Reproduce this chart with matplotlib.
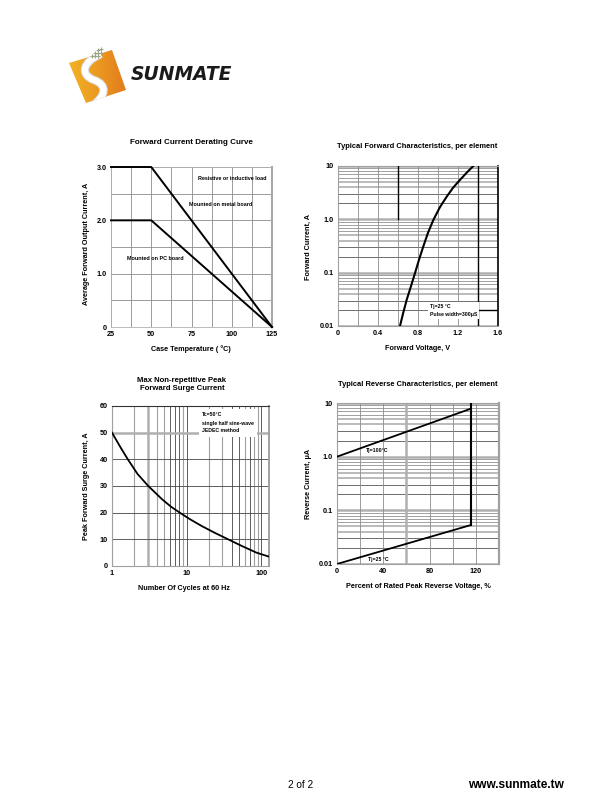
import matplotlib
matplotlib.use('Agg')
import matplotlib.pyplot as plt
import numpy as np
from matplotlib.path import Path
import matplotlib.patches as mpatches
from matplotlib.colors import LinearSegmentedColormap

plt.rcParams['font.family'] = ['Liberation Sans', 'DejaVu Sans']

W, H = 610, 810

# ---------------- data ----------------
derate_temp = [25, 50, 125]
derate_metal = [3.0, 3.0, 0.0]
derate_pc = [2.0, 2.0, 0.0]
derate_xticks = [25, 50, 75, 100, 125]
derate_yticks = [0, 1, 2, 3]
derate_yticklabels = ['0', '1.0', '2.0', '3.0']

fwd_v = [0.62, 0.65, 0.687, 0.73, 0.77, 0.81, 0.853, 0.90, 0.953, 1.02, 1.087, 1.15, 1.22, 1.29, 1.353]
fwd_i = [0.01, 0.017, 0.031, 0.056, 0.098, 0.175, 0.31, 0.56, 0.97, 1.7, 2.66, 3.9, 5.5, 7.6, 10]
fwd_xticks = [0, 0.4, 0.8, 1.2, 1.6]
fwd_xticklabels = ['0', '0.4', '0.8', '1.2', '1.6']
fwd_mark1_v = [0.6, 0.6]
fwd_mark1_i = [1.0, 10]
fwd_mark2_v = [1.4, 1.4]
fwd_mark2_i = [0.01, 10]
fwd_mark3_v = [1.4, 1.6]
fwd_mark3_i = [0.02, 0.02]

log_yticks = [0.01, 0.1, 1, 10]
log_yticklabels = ['0.01', '0.1', '1.0', '10']

surge_cycles = [1, 1.3, 1.63, 2.2, 3.06, 4.7, 6.2, 8.1, 11, 15.9, 24, 36, 55, 86.5, 127]
surge_current = [50, 44.5, 40, 34.5, 30, 25, 22.2, 20, 17.6, 15, 12.4, 10, 7.5, 5, 3.5]
surge_xticks = [1, 10, 100]
surge_xticklabels = ['1', '10', '100']
surge_yticks = [0, 10, 20, 30, 40, 50, 60]

rev_pct = [0, 115.4]
rev_100 = [1.0, 7.8]
rev_25 = [0.01, 0.053]
rev_drop_pct = [115.4, 115.4]
rev_drop_i = [0.053, 10]
rev_xticks = [0, 40, 80, 120]

# ---------------- figure ----------------
fig = plt.figure(figsize=(W / 100, H / 100), dpi=100)
fig.patch.set_facecolor('white')


def rect(l, t, r, b):
    return [l / W, 1 - b / H, (r - l) / W, (b - t) / H]


ov = fig.add_axes([0, 0, 1, 1], zorder=0)
ov.set_xlim(0, W)
ov.set_ylim(H, 0)
ov.axis('off')

TICK = dict(labelsize=5.2, length=0, pad=3)
GRID = '#8c8c8c'


def style_ticks(ax):
    ax.tick_params(axis='both', **TICK)
    for lab in ax.get_xticklabels() + ax.get_yticklabels():
        lab.set_fontweight('bold')


def log_hgrid(ax, decades):
    for d in decades:
        ax.axhline(d, color='#b0b0b0', lw=1.8, zorder=1)
        for k in range(2, 10):
            v = k * d
            if k in (2, 3):
                ax.axhline(v, color='#555555', lw=0.6, zorder=1)
            elif k in (4, 5):
                ax.axhline(v, color='#b5b5b5', lw=1.3, zorder=1)
            else:
                ax.axhline(v, color='#909090', lw=0.6, zorder=1)


def spines(ax, color='#a0a0a0', lw=0.8):
    for s in ax.spines.values():
        s.set_color(color)
        s.set_linewidth(lw)


# ---------- chart 1: derating ----------
a1 = fig.add_axes(rect(111, 167, 272, 327), zorder=2)
a1.set_facecolor('none')
a1.set_xlim(25, 125)
a1.set_ylim(0, 3)
for x in np.arange(25, 126, 12.5):
    a1.axvline(x, color=GRID, lw=0.6, zorder=1)
for y in np.arange(0, 3.01, 0.5):
    a1.axhline(y, color=GRID, lw=0.6, zorder=1)
a1.plot(derate_temp, derate_metal, color='black', lw=1.4, zorder=3, clip_on=False)
a1.plot(derate_temp, derate_pc, color='black', lw=1.4, zorder=3, clip_on=False)
a1.set_xticks(derate_xticks)
a1.set_yticks(derate_yticks)
a1.set_yticklabels(derate_yticklabels)
spines(a1, '#b0b0b0', 0.6)
a1.spines['right'].set_color('#a8a8a8')
a1.spines['right'].set_linewidth(1.5)
style_ticks(a1)

ov.text(191, 142, 'Forward Current Derating Curve', fontsize=5.8, fontweight='bold', ha='center', va='center')
ov.text(87, 244, 'Average Forward Output Current, A', fontsize=5.2, fontweight='bold', ha='center', va='center', rotation=90)
ov.text(191, 349, 'Case Temperature ( °C)', fontsize=5.2, fontweight='bold', ha='center', va='center')
a1.text(232, 178, 'Resistive or inductive load', fontsize=3.9, fontweight='bold', ha='center', va='center', transform=ov.transData, zorder=4)
a1.text(221, 205, 'Mounted on metal board', fontsize=3.9, fontweight='bold', ha='center', va='center', transform=ov.transData, zorder=4)
a1.text(155, 259, 'Mounted on PC board', fontsize=3.9, fontweight='bold', ha='center', va='center', transform=ov.transData, zorder=4)

# ---------- chart 2: forward characteristics ----------
a2 = fig.add_axes(rect(338, 166, 498, 326), zorder=2)
a2.set_facecolor('none')
a2.set_yscale('log')
a2.set_xlim(0, 1.6)
a2.set_ylim(0.01, 10)
log_hgrid(a2, [0.01, 0.1, 1])
a2.axhline(10, color='#b0b0b0', lw=1.8, zorder=1)
for x in np.arange(0, 1.61, 0.2):
    a2.axvline(x, color=GRID, lw=0.6, zorder=1)
a2.plot(fwd_v, fwd_i, color='black', lw=1.5, zorder=3)
a2.plot(fwd_mark1_v, fwd_mark1_i, color='black', lw=1.0, zorder=3)
a2.plot(fwd_mark2_v, fwd_mark2_i, color='black', lw=1.0, zorder=3)
a2.plot(fwd_mark3_v, fwd_mark3_i, color='black', lw=1.0, zorder=3)
a2.set_xticks(fwd_xticks)
a2.set_xticklabels(fwd_xticklabels)
a2.set_yticks(log_yticks)
a2.set_yticklabels(log_yticklabels)
a2.yaxis.set_minor_locator(matplotlib.ticker.NullLocator())
spines(a2, '#a0a0a0', 0.8)
a2.spines['right'].set_color('black')
a2.spines['right'].set_linewidth(1.2)
style_ticks(a2)

ov.text(417, 147, 'Typical Forward Characteristics, per element', fontsize=5.4, fontweight='bold', ha='center', va='center')
ov.text(308, 247, 'Forward Current, A', fontsize=5.2, fontweight='bold', ha='center', va='center', rotation=90)
ov.text(418, 348, 'Forward Voltage, V', fontsize=5.2, fontweight='bold', ha='center', va='center')
a2.text(430, 310.5, 'Tj=25 °C\nPulse width=300\u03bcS', fontsize=3.7, fontweight='bold', ha='left', va='center',
        linespacing=1.6, transform=ov.transData, zorder=4,
        bbox=dict(facecolor='white', edgecolor='none', pad=1.5))

# ---------- chart 3: surge ----------
a3 = fig.add_axes(rect(112, 406, 269, 566), zorder=2)
a3.set_facecolor('none')
a3.set_xscale('log')
a3.set_xlim(1, 127)
a3.set_ylim(0, 60)
dark_x = [6, 7, 8, 10, 40, 50, 70, 100]
for d in [1, 10, 100]:
    for k in range(1, 10):
        v = k * d
        if v > 127:
            continue
        if v == 3:
            a3.axvline(v, color='#b0b0b0', lw=1.8, zorder=1)
        elif v in dark_x:
            a3.axvline(v, color='#444444', lw=0.6, zorder=1)
        else:
            a3.axvline(v, color='#a0a0a0', lw=0.8, zorder=1)
for y in [10, 20, 30, 40]:
    a3.axhline(y, color='#444444', lw=0.6, zorder=1)
a3.axhline(50, color='#b0b0b0', lw=1.8, zorder=1)
a3.plot(surge_cycles, surge_current, color='black', lw=1.3, zorder=3)
a3.set_xticks(surge_xticks)
a3.set_xticklabels(surge_xticklabels)
a3.xaxis.set_minor_locator(matplotlib.ticker.NullLocator())
a3.set_yticks(surge_yticks)
spines(a3, '#a0a0a0', 0.8)
a3.spines['top'].set_color('#333333')
a3.spines['right'].set_color('#a0a0a0')
a3.spines['right'].set_linewidth(1.4)
style_ticks(a3)

ov.text(182, 381, 'Max Non-repetitive Peak', fontsize=5.6, fontweight='bold', ha='center', va='center')
ov.text(182, 389, 'Forward Surge Current', fontsize=5.6, fontweight='bold', ha='center', va='center')
ov.text(87, 486, 'Peak Forward Surge Current, A', fontsize=5.2, fontweight='bold', ha='center', va='center', rotation=90)
ov.text(184, 588, 'Number Of Cycles at 60 Hz', fontsize=5.2, fontweight='bold', ha='center', va='center')
a3.text(202, 423, 'Tc=50°C\nsingle half sine-wave\nJEDEC method', fontsize=3.7, fontweight='bold', ha='left', va='center',
        linespacing=1.75, transform=ov.transData, zorder=4,
        bbox=dict(facecolor='white', edgecolor='none', pad=2.5))

# ---------- chart 4: reverse ----------
a4 = fig.add_axes(rect(337, 403, 499, 564), zorder=2)
a4.set_facecolor('none')
a4.set_yscale('log')
a4.set_xlim(0, 140)
a4.set_ylim(0.01, 10)
log_hgrid(a4, [0.01, 0.1, 1])
a4.axhline(10, color='#b0b0b0', lw=1.8, zorder=1)
for x in range(0, 141, 20):
    if x == 60:
        a4.axvline(x, color='#b0b0b0', lw=1.8, zorder=1)
    else:
        a4.axvline(x, color=GRID, lw=0.6, zorder=1)
a4.plot(rev_pct, rev_100, color='black', lw=1.3, zorder=3)
a4.plot(rev_pct, rev_25, color='black', lw=1.3, zorder=3)
a4.plot(rev_drop_pct, rev_drop_i, color='black', lw=1.5, zorder=3)
a4.set_xticks(rev_xticks)
a4.set_yticks(log_yticks)
a4.set_yticklabels(log_yticklabels)
a4.yaxis.set_minor_locator(matplotlib.ticker.NullLocator())
spines(a4, '#a0a0a0', 0.8)
a4.spines['right'].set_color('#a0a0a0')
a4.spines['right'].set_linewidth(1.6)
style_ticks(a4)

ov.text(418, 385, 'Typical Reverse Characteristics, per element', fontsize=5.4, fontweight='bold', ha='center', va='center')
ov.text(308, 484, 'Reverse Current, \u03bcA', fontsize=5.2, fontweight='bold', ha='center', va='center', rotation=90)
ov.text(418, 587, 'Percent of Rated Peak Reverse Voltage, %', fontsize=5.2, fontweight='bold', ha='center', va='center')
a4.text(366, 450.5, 'Tj=100°C', fontsize=3.7, fontweight='bold', ha='left', va='center', transform=ov.transData, zorder=4)
a4.text(368, 559, 'Tj=25 °C', fontsize=3.7, fontweight='bold', ha='left', va='center', transform=ov.transData, zorder=4)

# ---------- logo ----------
sq = [(69, 63), (112, 50), (126, 90), (86, 103)]
poly = mpatches.Polygon(sq, closed=True, facecolor='none', edgecolor='none')
ov.add_patch(poly)
grad = np.linspace(0, 1, 64)[None, :]
cmap = LinearSegmentedColormap.from_list('lg', ['#F2B425', '#EC9A22', '#E27A1C'])
im = ov.imshow(np.repeat(grad, 8, axis=0), cmap=cmap, extent=(66, 128, 106, 47), aspect='auto', zorder=1)
im.set_clip_path(poly)
ov.set_xlim(0, W)
ov.set_ylim(H, 0)
s_path = Path([(101, 54), (82, 62), (80, 75), (94, 80), (108, 85), (106, 96), (92, 106)],
              [Path.MOVETO, Path.CURVE4, Path.CURVE4, Path.CURVE4, Path.CURVE4, Path.CURVE4, Path.CURVE4])
s_out = mpatches.PathPatch(s_path, facecolor='none', edgecolor='#d8d8d8', lw=6.0, capstyle='butt', zorder=2)
s_in = mpatches.PathPatch(s_path, facecolor='none', edgecolor='white', lw=4.5, capstyle='butt', zorder=2)
ov.add_patch(s_out)
ov.add_patch(s_in)
s_out.set_clip_path(poly)
s_in.set_clip_path(poly)
dots_x = [92, 95, 98, 95, 98, 101, 101, 98]
dots_y = [56, 56, 56, 53, 53, 53, 49, 50]
ov.plot(dots_x, dots_y, linestyle='none', marker='+', color='#9aa58a', ms=2.5, mew=0.8, zorder=2)
ov.text(131, 75, 'SUNMATE', fontsize=13.5, fontweight='bold', fontstyle='italic', family=['DejaVu Sans'],
        ha='left', va='center', color='#1a1a1a')

# ---------- footer ----------
ov.text(288, 785, '2 of 2', fontsize=7.2, ha='left', va='center')
ov.text(468, 785, 'www.sunmate.tw', fontsize=8.6, fontweight='bold', ha='left', va='center')

fig.savefig('out.png', dpi=100, facecolor='white')
